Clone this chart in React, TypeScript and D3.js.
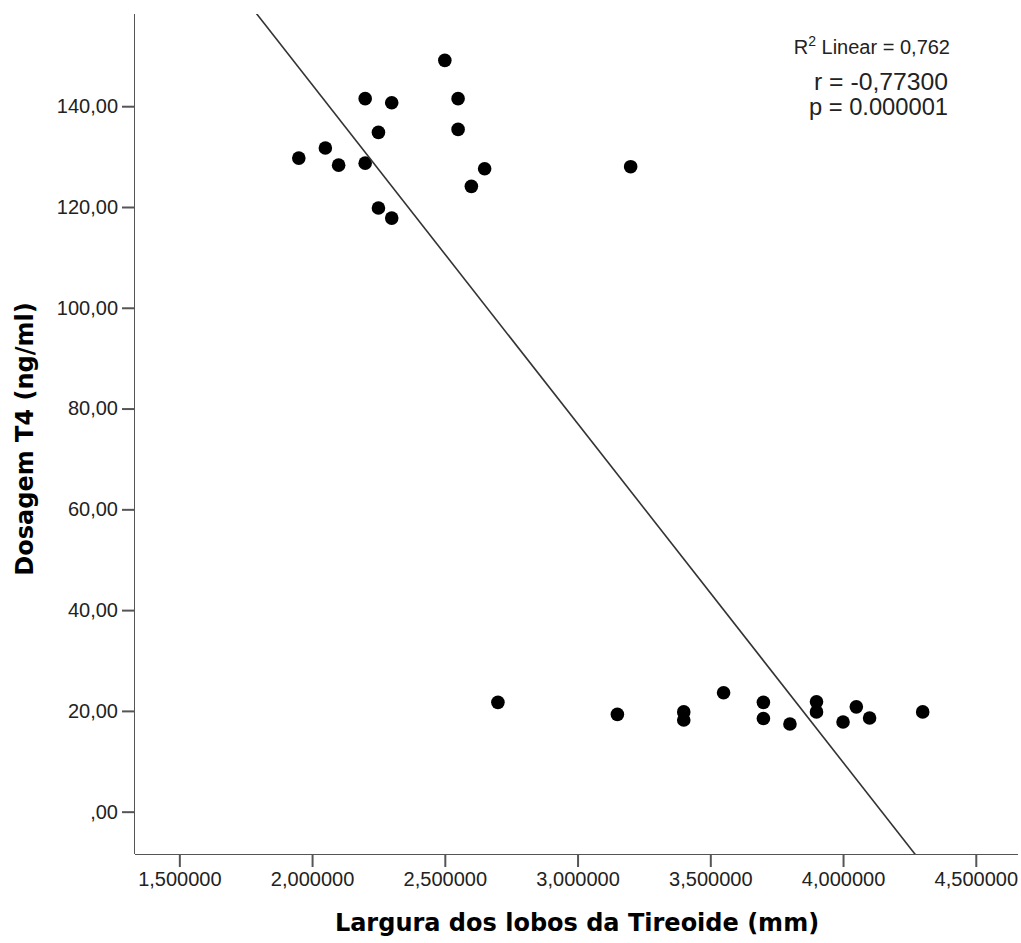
import React, { useEffect, useRef } from "react";
import * as d3 from "d3";

// Largura dos lobos (x) e Dosagem T4 (y)
const largura = [
  1.95, 2.05, 2.1, 2.2, 2.2, 2.25, 2.3, 2.25, 2.3, 2.5, 2.55, 2.55, 2.6, 2.65, 3.2,
  2.7, 3.15, 3.4, 3.4, 3.55, 3.7, 3.7, 3.8, 3.9, 3.9, 4.0, 4.05, 4.1, 4.3,
];
const dosagem = [
  129.7, 131.7, 128.3, 141.5, 128.7, 134.8, 140.7, 119.8, 117.8, 149.1, 141.5, 135.4, 124.1, 127.6, 128.0,
  21.7, 19.3, 19.8, 18.2, 23.6, 21.7, 18.5, 17.4, 21.8, 19.8, 17.8, 20.8, 18.6, 19.8,
];
const xTicks = [1.5, 2.0, 2.5, 3.0, 3.5, 4.0, 4.5];
const yTicks = [0, 20, 40, 60, 80, 100, 120, 140];
// reta de ajuste linear (y = a + b*x)
const fitIntercept = 278.8;
const fitSlope = -67.25;
const annot = ["r = -0,77300", "p = 0.000001"];

export default function App() {
  const svgRef = useRef<SVGSVGElement>(null);
  const width = 1021;
  const height = 943;
  const left = 135;
  const right = 1018;
  const top = 14;
  const bottom = 854;

  useEffect(() => {
    const svg = d3.select(svgRef.current);
    svg.selectAll("*").remove();

    const x = d3.scaleLinear().domain([1.333, 4.659]).range([left, right]);
    const y = d3.scaleLinear().domain([-8.4, 158.3]).range([bottom, top]);

    const plot = svg.append("g");
    svg
      .append("clipPath")
      .attr("id", "clip")
      .append("rect")
      .attr("x", left)
      .attr("y", top)
      .attr("width", right - left)
      .attr("height", bottom - top);

    // pontos
    plot
      .selectAll("circle")
      .data(largura.map((v, i) => [v, dosagem[i]]))
      .enter()
      .append("circle")
      .attr("cx", (d) => x(d[0]))
      .attr("cy", (d) => y(d[1]))
      .attr("r", 6.8)
      .attr("fill", "black");

    // reta
    const xs = [1.3, 4.7];
    plot
      .append("path")
      .attr("clip-path", "url(#clip)")
      .attr(
        "d",
        d3.line()(xs.map((v) => [x(v), y(fitIntercept + fitSlope * v)]) as [number, number][])
      )
      .attr("stroke", "#333")
      .attr("stroke-width", 1.6)
      .attr("fill", "none");

    const xAxis = d3
      .axisBottom(x)
      .tickValues(xTicks)
      .tickFormat((d) => d3.format(".6f")(d as number).replace(".", ","))
      .tickSizeInner(13)
      .tickSizeOuter(0)
      .tickPadding(5);

    const yAxis = d3
      .axisLeft(y)
      .tickValues(yTicks)
      .tickFormat((d) => {
        const s = d3.format(".2f")(d as number).replace(".", ",");
        return s.startsWith("0") ? s.slice(1) : s;
      })
      .tickSizeInner(13)
      .tickSizeOuter(0)
      .tickPadding(4);

    const gx = svg
      .append("g")
      .attr("transform", `translate(0, ${bottom})`)
      .call(xAxis);
    gx.select(".domain").attr("d", `M${left},0.5H${right}`);
    gx.selectAll(".tick line").attr("stroke-width", 2);
    gx.selectAll("text")
      .attr("font-family", "Liberation Sans, Arial")
      .attr("font-size", 20)
      .attr("fill", "#222");

    const gy = svg
      .append("g")
      .attr("transform", `translate(${left}, 0)`)
      .call(yAxis);
    gy.select(".domain").attr("d", `M-0.5,${top}V${bottom}`);
    gy.selectAll(".tick line").attr("stroke-width", 2);
    gy.selectAll("text")
      .attr("font-family", "Liberation Sans, Arial")
      .attr("font-size", 20)
      .attr("fill", "#222");
    svg.selectAll(".domain, .tick line").attr("stroke", "#555");

    // títulos
    svg
      .append("text")
      .attr("x", (337 + 817) / 2)
      .attr("y", 931)
      .attr("text-anchor", "middle")
      .attr("font-family", "DejaVu Sans")
      .attr("font-weight", "bold")
      .attr("font-size", 24)
      .text("Largura dos lobos da Tireoide (mm)");

    svg
      .append("text")
      .attr("transform", "rotate(-90)")
      .attr("x", -439)
      .attr("y", 33)
      .attr("text-anchor", "middle")
      .attr("font-family", "DejaVu Sans")
      .attr("font-weight", "bold")
      .attr("font-size", 24)
      .text("Dosagem T4 (ng/ml)");

    // anotação R²
    const r2 = svg
      .append("text")
      .attr("x", 950)
      .attr("y", 54)
      .attr("text-anchor", "end")
      .attr("font-family", "Liberation Sans, Arial")
      .attr("font-size", 20)
      .attr("fill", "#222");
    r2.append("tspan").text("R");
    r2.append("tspan").attr("font-size", 14).attr("dy", -8).text("2");
    r2.append("tspan").attr("dy", 8).text(" Linear = 0,762");

    svg
      .selectAll(".annot")
      .data(annot)
      .enter()
      .append("text")
      .attr("x", 948)
      .attr("y", (d, i) => 90 + i * 25)
      .attr("text-anchor", "end")
      .attr("font-family", "Liberation Sans, Arial")
      .attr("font-size", 23)
      .attr("textLength", (d, i) => (i === 0 ? 134 : 139))
      .attr("lengthAdjust", "spacingAndGlyphs")
      .attr("fill", "#222")
      .text((d) => d);
  }, []);

  return (
    <svg
      ref={svgRef}
      width={width}
      height={height}
      style={{ position: "absolute", left: 0, top: 0, background: "white" }}
    ></svg>
  );
}
